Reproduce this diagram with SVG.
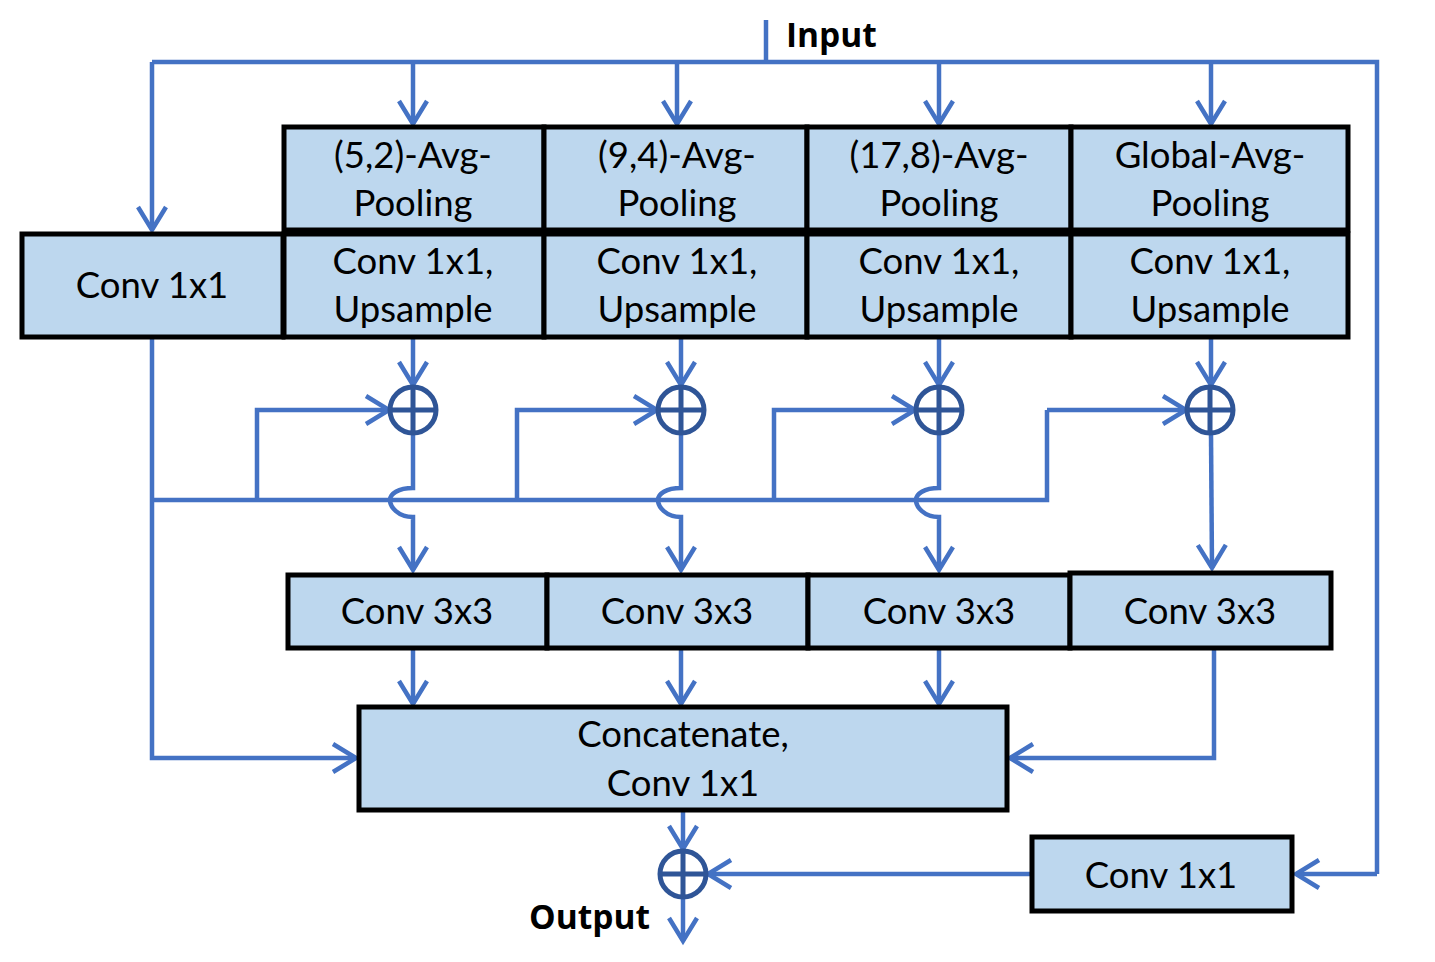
<svg xmlns="http://www.w3.org/2000/svg" width="1435" height="962" viewBox="0 0 1435 962">
<style>
.box{fill:#BDD7EE;stroke:#000;stroke-width:5}
.t{font-family:Lato,"Open Sans",sans-serif;font-size:36.5px;fill:#000;text-anchor:middle}
.b{font-family:"Open Sans","Liberation Sans",sans-serif;font-weight:bold;font-size:33.5px;fill:#000}
.ln{fill:none;stroke:#4472C4;stroke-width:4.5}
.ar{marker-end:url(#ah)}
.plus{fill:none;stroke:#2F5597;stroke-width:5}
</style>
<defs>
<marker id="ah" markerUnits="userSpaceOnUse" markerWidth="40" markerHeight="40" viewBox="-30 -20 40 40" refX="0" refY="0" orient="auto">
<path d="M-23,-14 L0,0 L-23,14" fill="none" stroke="#4472C4" stroke-width="4.5"/>
</marker>
</defs>
<rect width="1435" height="962" fill="#fff"/>
<g id="connectors">
<path class="ln" d="M766,20 V62"/>
<path class="ln" d="M152,62 H1377 V874"/>
<path class="ln ar" d="M1377,874 H1296"/>
<path class="ln ar" d="M152,62 V230"/>
<path class="ln ar" d="M413,62 V124"/>
<path class="ln ar" d="M677,62 V124"/>
<path class="ln ar" d="M939,62 V124"/>
<path class="ln ar" d="M1211,62 V124"/>
<path class="ln ar" d="M413,338 V385"/>
<path class="ln ar" d="M681,338 V385"/>
<path class="ln ar" d="M939,338 V385"/>
<path class="ln ar" d="M1211,338 V385"/>
<path class="ln ar" d="M152,338 V758 H356"/>
<path class="ln" d="M152,500 H1047 V410"/>
<path class="ln ar" d="M1047,410 H1186"/>
<path class="ln ar" d="M257,500 V410 H389"/>
<path class="ln ar" d="M517,500 V410 H657"/>
<path class="ln ar" d="M774,500 V410 H915"/>
<path class="ln ar" d="M413,434 V488 C398,488 390,494 390,500 C390,507 398,517 413,517 V570"/>
<path class="ln ar" d="M681,434 V488 C666,488 658,494 658,500 C658,507 666,517 681,517 V570"/>
<path class="ln ar" d="M939,434 V488 C924,488 916,494 916,500 C916,507 924,517 939,517 V570"/>
<path class="ln ar" d="M1211,434 L1212,568"/>
<path class="ln ar" d="M413,650 V704"/>
<path class="ln ar" d="M681,650 V704"/>
<path class="ln ar" d="M939,650 V704"/>
<path class="ln ar" d="M1214,650 V758 H1010"/>
<path class="ln ar" d="M683,812 V849"/>
<path class="ln ar" d="M1031,874 H708"/>
<path class="ln ar" d="M683,898 V941"/>
</g>
<g id="input-label"><text class="b" x="786" y="47">Input</text></g>
<g id="output-label"><text class="b" x="529" y="929">Output</text></g>
<g id="pool1"><rect class="box" x="284" y="127" width="260" height="103"/><text class="t" x="413" y="168">(5,2)-Avg-</text><text class="t" x="413" y="216">Pooling</text></g>
<g id="pool2"><rect class="box" x="544" y="127" width="263" height="103"/><text class="t" x="677" y="168">(9,4)-Avg-</text><text class="t" x="677" y="216">Pooling</text></g>
<g id="pool3"><rect class="box" x="807" y="127" width="264" height="103"/><text class="t" x="939" y="168">(17,8)-Avg-</text><text class="t" x="939" y="216">Pooling</text></g>
<g id="pool4"><rect class="box" x="1071" y="127" width="277" height="103"/><text class="t" x="1210" y="168">Global-Avg-</text><text class="t" x="1210" y="216">Pooling</text></g>
<g id="conv1x1-left"><rect class="box" x="22" y="234" width="261" height="103"/><text class="t" x="152" y="298">Conv 1x1</text></g>
<g id="up1"><rect class="box" x="284" y="234" width="260" height="103"/><text class="t" x="413" y="274">Conv 1x1,</text><text class="t" x="413" y="322">Upsample</text></g>
<g id="up2"><rect class="box" x="544" y="234" width="263" height="103"/><text class="t" x="677" y="274">Conv 1x1,</text><text class="t" x="677" y="322">Upsample</text></g>
<g id="up3"><rect class="box" x="807" y="234" width="264" height="103"/><text class="t" x="939" y="274">Conv 1x1,</text><text class="t" x="939" y="322">Upsample</text></g>
<g id="up4"><rect class="box" x="1071" y="234" width="277" height="103"/><text class="t" x="1210" y="274">Conv 1x1,</text><text class="t" x="1210" y="322">Upsample</text></g>
<g id="sum1" class="plus"><circle cx="413" cy="410" r="23"/><path d="M390,410 H436 M413,387 V433"/></g>
<g id="sum2" class="plus"><circle cx="681" cy="410" r="23"/><path d="M658,410 H704 M681,387 V433"/></g>
<g id="sum3" class="plus"><circle cx="939" cy="410" r="23"/><path d="M916,410 H962 M939,387 V433"/></g>
<g id="sum4" class="plus"><circle cx="1210" cy="410" r="23"/><path d="M1187,410 H1233 M1210,387 V433"/></g>
<g id="c3a"><rect class="box" x="288" y="575" width="259" height="73"/><text class="t" x="417" y="624">Conv 3x3</text></g>
<g id="c3b"><rect class="box" x="547" y="575" width="261" height="73"/><text class="t" x="677" y="624">Conv 3x3</text></g>
<g id="c3c"><rect class="box" x="808" y="575" width="262" height="73"/><text class="t" x="939" y="624">Conv 3x3</text></g>
<g id="c3d"><rect class="box" x="1070" y="573" width="261" height="75"/><text class="t" x="1200" y="624">Conv 3x3</text></g>
<g id="concat"><rect class="box" x="359" y="707" width="648" height="103"/><text class="t" x="683" y="747">Concatenate,</text><text class="t" x="683" y="796">Conv 1x1</text></g>
<g id="sum-out" class="plus"><circle cx="683" cy="874" r="23"/><path d="M660,874 H706 M683,851 V897"/></g>
<g id="conv1x1-right"><rect class="box" x="1032" y="837" width="260" height="74"/><text class="t" x="1161" y="888">Conv 1x1</text></g>
</svg>
